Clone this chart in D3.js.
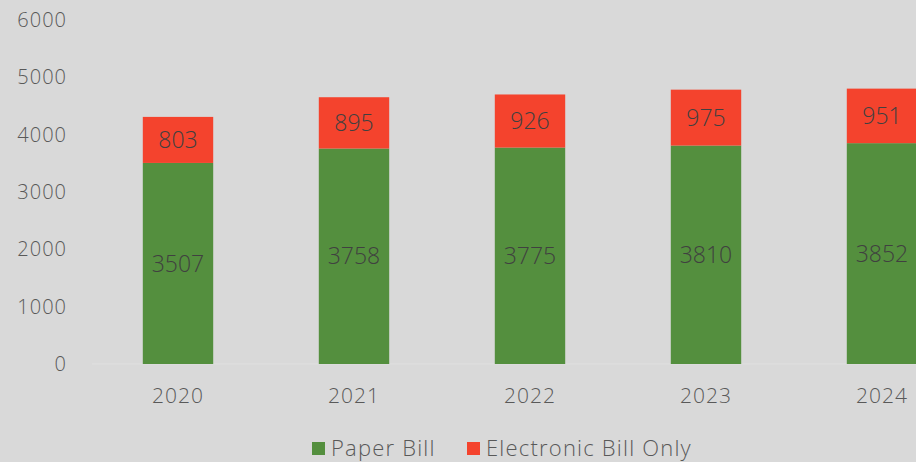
<!DOCTYPE html>
<html>
<head>
<meta charset="utf-8">
<script src="https://cdn.jsdelivr.net/npm/d3@7"></script>
<style>
  body { margin: 0; background: #d9d9d9; }
  svg { display: block; font-family: "Open Sans", "DejaVu Sans", sans-serif; }
</style>
</head>
<body>
<div id="chart"></div>
<script>
// bill type counts by year
var years = ["2020", "2021", "2022", "2023", "2024"];
var paperBill = [3507, 3758, 3775, 3810, 3852];
var electronicBill = [803, 895, 926, 975, 951];
var yTicks = [0, 1000, 2000, 3000, 4000, 5000, 6000];
var seriesNames = ["Paper Bill", "Electronic Bill Only"];

var colors = ["#548f3e", "#f4432d"];
var width = 916, height = 462;

var svg = d3.select("#chart").append("svg")
	.attr("width", width)
	.attr("height", height);

svg.append("rect")
	.attr("width", width)
	.attr("height", height)
	.attr("fill", "#d9d9d9");

var x = d3.scaleBand()
	.domain(years)
	.range([90, 970])
	.paddingInner(0.6)
	.paddingOuter(0.3);

var y = d3.scaleLinear()
	.domain([0, 6000])
	.range([364, 20]);

var rows = years.map(function(yr, i) {
	return {year: yr, paper: paperBill[i], electronic: electronicBill[i]};
});
var stack = d3.stack().keys(["paper", "electronic"])(rows);

//y axis labels
svg.append("g").selectAll("text")
	.data(yTicks)
	.enter().append("text")
		.attr("x", 67)
		.attr("y", function(d) { return y(d); })
		.attr("dy", "0.35em")
		.attr("text-anchor", "end")
		.attr("fill", "#595959")
		.style("font-size", "20px")
		.style("font-weight", 300)
		.style("letter-spacing", "1px")
		.text(function(d) { return d; });

//baseline
svg.append("line")
	.attr("x1", 92)
	.attr("x2", width)
	.attr("y1", y(0))
	.attr("y2", y(0))
	.attr("stroke", "#e0e0e0")
	.attr("stroke-width", 1);

//bars
var layers = svg.selectAll(".layer")
	.data(stack)
	.enter().append("g")
		.attr("class", "layer")
		.attr("fill", function(d, i) { return colors[i]; });

layers.selectAll("rect")
	.data(function(d) { return d; })
	.enter().append("rect")
		.attr("x", function(d) { return x(d.data.year); })
		.attr("width", x.bandwidth())
		.attr("y", function(d) { return y(d[1]); })
		.attr("height", function(d) { return y(d[0]) - y(d[1]); });

layers.selectAll("text")
	.data(function(d) { return d; })
	.enter().append("text")
		.attr("x", function(d) { return x(d.data.year) + x.bandwidth() / 2; })
		.attr("y", function(d) { return (y(d[0]) + y(d[1])) / 2; })
		.attr("dy", "0.35em")
		.attr("text-anchor", "middle")
		.attr("fill", "#404040")
		.style("font-size", "23px")
		.style("font-weight", 300)
		.text(function(d) { return d[1] - d[0]; });

//x axis labels
svg.append("g").selectAll("text")
	.data(years)
	.enter().append("text")
		.attr("x", function(d) { return x(d) + x.bandwidth() / 2; })
		.attr("y", 396)
		.attr("dy", "0.35em")
		.attr("text-anchor", "middle")
		.attr("fill", "#595959")
		.style("font-size", "21px")
		.style("font-weight", 300)
		.style("letter-spacing", "1px")
		.text(function(d) { return d; });

//legend
var legendX = [312, 467];
var legend = svg.append("g").selectAll("g")
	.data(seriesNames)
	.enter().append("g")
		.attr("transform", function(d, i) { return "translate(" + legendX[i] + ",448)"; });
legend.append("rect")
	.attr("x", 0)
	.attr("y", -6)
	.attr("width", 13)
	.attr("height", 13)
	.attr("fill", function(d, i) { return colors[i]; });
legend.append("text")
	.attr("x", 19)
	.attr("y", 0)
	.attr("dy", "0.35em")
	.attr("fill", "#595959")
	.style("font-size", "22px")
	.style("font-weight", 300)
	.style("letter-spacing", "1.2px")
	.text(function(d) { return d; });
</script>
</body>
</html>
